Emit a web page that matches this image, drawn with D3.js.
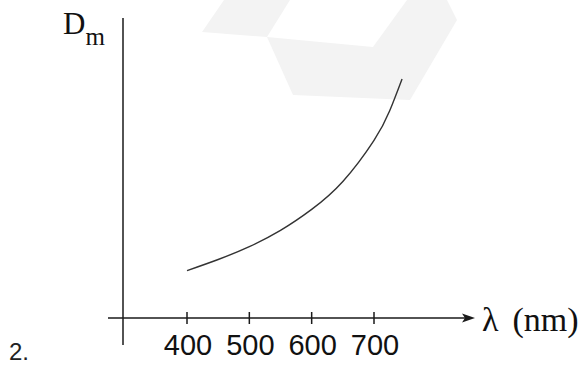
<!DOCTYPE html>
<html>
<head>
<meta charset="utf-8">
<script src="https://cdn.jsdelivr.net/npm/d3@7"></script>
<style>
  html, body { margin: 0; padding: 0; background: #fff; }
  svg { display: block; }
</style>
</head>
<body>
<svg id="chart" width="581" height="371"></svg>
<script>
// 波长 (nm) 和 最小偏向角 Dm（无刻度，相对值）
const wavelengths = [400, 450, 500, 550, 600, 650, 700, 725, 745]
const dmValues = [1.58, 1.95, 2.38, 2.92, 3.62, 4.55, 5.92, 6.9, 7.97]
const tickLabels = [400, 500, 600, 700]

const svg = d3.select('#chart')

// 背景水印
const watermark = [
  [[202, 32], [224, 0], [290, 0], [267, 37]],
  [[267, 37], [373, 47], [407, 0], [447, 0], [457, 20], [410, 100], [293, 95]],
]
svg.append('g')
  .selectAll('polygon')
  .data(watermark)
  .join('polygon')
  .attr('points', (d) => d.map((p) => p.join(',')).join(' '))
  .attr('fill', '#f3f3f3')

// 比例尺
const x = d3.scaleLinear().domain([400, 700]).range([187, 374])
const y = d3.scaleLinear().domain([0, 10]).range([318, 18])
const originX = 123
const axisColor = '#1a1a1a'

// Y轴
svg.append('line')
  .attr('x1', originX).attr('x2', originX)
  .attr('y1', y(10)).attr('y2', 345)
  .attr('stroke', axisColor).attr('stroke-width', 1.5)

// X轴 + 箭头
svg.append('line')
  .attr('x1', 108).attr('x2', 466)
  .attr('y1', y(0)).attr('y2', y(0))
  .attr('stroke', axisColor).attr('stroke-width', 1.5)
svg.append('path')
  .attr('d', `M475,${y(0)} L462,${y(0) - 4.5} L465,${y(0)} L462,${y(0) + 4.5} Z`)
  .attr('fill', axisColor)

// 刻度
svg.append('g')
  .selectAll('line')
  .data(tickLabels)
  .join('line')
  .attr('x1', (d) => x(d)).attr('x2', (d) => x(d))
  .attr('y1', y(0) - 6).attr('y2', y(0) + 6)
  .attr('stroke', axisColor).attr('stroke-width', 1.5)

svg.append('g')
  .selectAll('text')
  .data(tickLabels)
  .join('text')
  .attr('x', (d) => x(d) + 1)
  .attr('y', 355)
  .attr('text-anchor', 'middle')
  .attr('font-family', 'Liberation Sans, Arial, sans-serif')
  .attr('font-size', 29)
  .attr('fill', '#111')
  .text((d) => d)

// 曲线
const line = d3.line()
  .x((d, i) => x(wavelengths[i]))
  .y((d) => y(d))
  .curve(d3.curveNatural)

svg.append('path')
  .datum(dmValues)
  .attr('d', line)
  .attr('fill', 'none')
  .attr('stroke', '#333')
  .attr('stroke-width', 1.4)

// 轴标题
const yTitle = svg.append('text')
  .attr('x', 63).attr('y', 34)
  .attr('font-family', 'Liberation Serif, Times New Roman, serif')
  .attr('font-size', 31)
  .attr('fill', '#111')
yTitle.append('tspan').text('D')
yTitle.append('tspan').attr('font-size', 25).attr('dy', 11).text('m')

const xTitle = svg.append('text')
  .attr('x', 482).attr('y', 331)
  .attr('font-family', 'Liberation Serif, Times New Roman, serif')
  .attr('font-size', 34)
  .attr('fill', '#111')
xTitle.append('tspan').text('λ')
xTitle.append('tspan').attr('dx', 14).text('(nm)')

// 题号
svg.append('text')
  .attr('x', 9).attr('y', 360)
  .attr('font-family', 'Liberation Sans, Arial, sans-serif')
  .attr('font-size', 24)
  .attr('fill', '#222')
  .text('2.')
</script>
</body>
</html>
